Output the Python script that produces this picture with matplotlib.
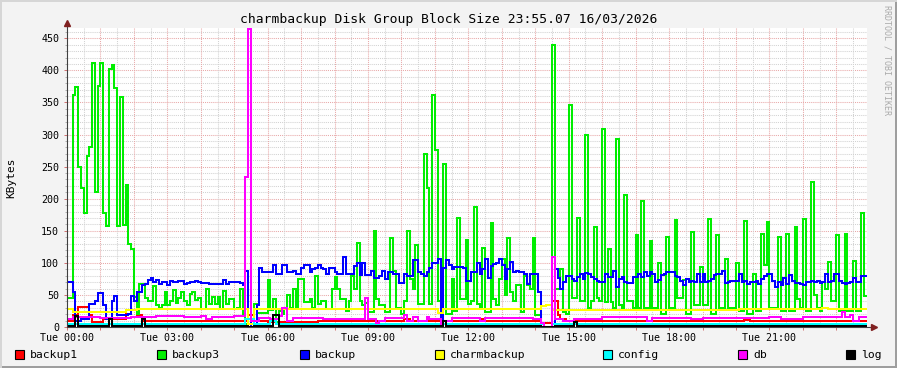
import matplotlib
matplotlib.use("Agg")
import matplotlib.pyplot as plt
from matplotlib.patches import Rectangle
import numpy as np

W, H = 897, 368

TITLE = "charmbackup Disk Group Block Size 23:55.07 16/03/2026"
END_TIME = "23:55"
TICK_HOURS = [0, 3, 6, 9, 12, 15, 18, 21]
Y_TICKS = [0, 50, 100, 150, 200, 250, 300, 350, 400, 450]
Y_MAX = 466

# backup3 (green), 5 minute samples, one row per hour
backup3 = [
    [45, 45, 361, 374, 250, 216, 177, 267, 280, 411, 210, 376],
    [411, 177, 157, 402, 408, 373, 157, 358, 159, 221, 130, 122],
    [47, 20, 67, 67, 45, 40, 40, 64, 35, 30, 35, 55],
    [35, 40, 57, 38, 45, 55, 40, 35, 52, 55, 42, 45],
    [28, 28, 60, 36, 47, 36, 47, 28, 56, 36, 44, 44],
    [28, 30, 60, 20, 5, 5, 10, 36, 22, 22, 22, 22],
    [74, 26, 44, 8, 25, 20, 30, 50, 30, 60, 30, 75],
    [75, 39, 39, 43, 30, 80, 36, 41, 41, 28, 28, 60],
    [78, 60, 44, 44, 25, 40, 80, 60, 131, 40, 35, 38],
    [23, 23, 149, 44, 34, 34, 23, 23, 138, 88, 30, 30],
    [20, 40, 150, 75, 60, 128, 36, 36, 270, 216, 36, 362],
    [276, 40, 0, 254, 20, 20, 75, 25, 170, 44, 44, 136],
    [36, 40, 187, 36, 30, 123, 23, 23, 162, 44, 34, 75],
    [106, 50, 139, 55, 40, 65, 65, 23, 80, 65, 60, 138],
    [18, 18, 0, 0, 0, 0, 440, 60, 60, 91, 23, 20],
    [346, 45, 45, 170, 40, 40, 300, 30, 40, 156, 45, 40],
    [309, 39, 122, 39, 30, 293, 35, 30, 206, 40, 40, 30],
    [144, 30, 196, 30, 30, 134, 30, 30, 99, 20, 20, 141],
    [30, 30, 166, 45, 45, 73, 20, 20, 148, 35, 35, 94],
    [35, 35, 169, 20, 20, 143, 30, 30, 106, 30, 30, 30],
    [99, 25, 25, 165, 20, 20, 83, 25, 25, 145, 96, 164],
    [30, 30, 30, 140, 25, 25, 145, 25, 25, 156, 44, 30],
    [169, 25, 25, 226, 50, 30, 25, 70, 60, 101, 40, 40],
    [144, 25, 25, 145, 25, 25, 103, 25, 25, 178, 48],
]

# backup (blue), 5 minute samples, one row per hour
backup = [
    [70, 70, 55, 10, 10, 13, 13, 13, 36, 36, 41, 53],
    [53, 34, 13, 13, 41, 48, 19, 18, 18, 18, 20, 49],
    [41, 54, 54, 65, 67, 74, 76, 70, 73, 67, 70, 70],
    [65, 71, 70, 70, 71, 71, 67, 68, 70, 70, 72, 70],
    [69, 69, 69, 67, 67, 67, 67, 67, 73, 67, 70, 70],
    [70, 70, 69, 65, 88, 13, 0, 0, 34, 92, 86, 86],
    [86, 86, 97, 83, 83, 97, 97, 86, 86, 88, 83, 83],
    [92, 97, 97, 86, 90, 92, 97, 92, 90, 83, 92, 92],
    [86, 83, 83, 109, 82, 82, 82, 95, 100, 81, 100, 81],
    [81, 88, 76, 76, 80, 88, 75, 85, 85, 83, 83, 69],
    [69, 83, 80, 80, 104, 104, 86, 83, 80, 86, 92, 99],
    [99, 106, 0, 92, 105, 96, 91, 94, 94, 94, 92, 71],
    [71, 86, 86, 100, 83, 90, 106, 76, 95, 98, 100, 106],
    [97, 75, 90, 102, 86, 88, 85, 85, 82, 67, 83, 83],
    [83, 55, 0, 0, 0, 0, 0, 91, 76, 60, 70, 80],
    [80, 75, 72, 78, 82, 75, 84, 82, 78, 75, 72, 70],
    [70, 83, 78, 78, 88, 62, 75, 78, 70, 68, 68, 78],
    [78, 83, 78, 85, 80, 86, 83, 70, 74, 81, 83, 86],
    [86, 86, 80, 78, 72, 65, 75, 70, 72, 70, 82, 70],
    [82, 70, 71, 75, 81, 83, 83, 87, 69, 70, 72, 72],
    [71, 82, 70, 72, 67, 70, 70, 72, 67, 75, 80, 82],
    [82, 72, 62, 70, 66, 77, 67, 81, 72, 69, 68, 67],
    [66, 70, 70, 72, 70, 72, 69, 70, 83, 70, 72, 83],
    [83, 72, 68, 67, 69, 70, 76, 70, 70, 80, 80],
]

# the quieter series: value holds from each time until the next one
backup1_t = ["00:00", "00:10", "00:20", "00:40", "00:45", "01:05", "01:20", "01:45",
             "02:05", "02:15", "03:40", "05:25", "05:35", "06:00", "07:30", "09:20",
             "10:05", "10:15", "12:20", "12:30", "14:10", "14:30", "14:40", "14:45",
             "14:55", "15:20", "20:15", "20:25", "23:00"]
backup1_v = [10, 18, 31, 18, 8, 13, 12, 26, 18, 10, 9, 18, 9, 8, 10, 9,
             13, 9, 13, 10, 7, 40, 18, 13, 10, 9, 11, 9, 10]

charmbackup_t = ["00:00", "00:10", "00:45", "01:25", "01:45", "02:05", "05:25", "05:35",
                 "11:05", "11:15", "14:10", "14:20", "14:30", "14:40", "20:05", "22:35",
                 "22:45"]
charmbackup_v = [28, 23, 24, 23, 26, 28, 5, 28, 22, 28, 32, 35, 26, 27, 28, 30, 28]

config_t = ["00:00", "05:20", "05:35", "06:05", "06:15", "11:10", "11:15", "14:15", "14:30"]
config_v = [4, 13, 4, 9, 4, 0, 4, 0, 4]

db_t = ["00:00", "00:10", "01:00", "01:55", "02:40", "03:30", "04:00", "04:10", "04:20",
        "05:00", "05:20", "05:25", "05:30", "05:45", "06:05", "06:20", "06:25", "06:35",
        "06:45", "07:40", "08:55", "09:00", "09:15", "09:20", "09:30", "10:05", "10:10",
        "10:20", "10:30", "10:45", "10:50", "11:10", "11:15", "11:30", "12:20", "12:30",
        "13:55", "14:10", "14:15", "14:30", "14:35", "14:50", "15:10", "16:00", "17:20",
        "17:30", "18:40", "19:00", "21:00", "21:20", "22:00", "23:10", "23:15", "23:25",
        "23:30", "23:40"]
db_v = [13, 15, 14, 16, 17, 15, 17, 13, 16, 17, 234, 465, 10, 14, 13, 17, 30, 10,
        14, 12, 45, 13, 7, 10, 14, 18, 10, 15, 10, 15, 13, 0, 10, 14, 10, 14,
        12, 7, 0, 109, 13, 10, 13, 15, 9, 14, 12, 14, 16, 13, 15, 24, 15, 18,
        10, 15]

log_t = ["00:00", "00:15", "00:20", "01:15", "01:20", "02:15", "02:20", "05:25", "05:35",
         "06:10", "06:20", "11:10", "11:15", "11:20", "14:10", "14:35", "15:10", "15:15"]
log_v = [2, 17, 2, 13, 2, 13, 2, 0, 2, 18, 2, 0, 10, 2, 0, 2, 8, 2]

LEGEND = ["backup1", "backup3", "backup", "charmbackup", "config", "db", "log"]
COLORS = ["#FF0000", "#00EE00", "#0000FF", "#FFFF00", "#00FFFF", "#FF00FF", "#000000"]
LEGEND_X = [15, 157, 300, 435, 603, 738, 846]


def hm(s):
    h, m = s.split(":")
    return int(h) + int(m) / 60


END = hm(END_TIME)


def five_min(rows):
    vals = [v for row in rows for v in row]
    t = np.arange(len(vals)) * 5 / 60
    return np.append(t, END), np.append(vals, vals[-1])


def changes(times, vals):
    t = [hm(x) for x in times]
    return np.append(t, END), np.append(vals, vals[-1])


series = [
    changes(backup1_t, backup1_v),
    five_min(backup3),
    five_min(backup),
    changes(charmbackup_t, charmbackup_v),
    changes(config_t, config_v),
    changes(db_t, db_v),
    changes(log_t, log_v),
]

plt.rcParams["font.family"] = ["DejaVu Sans Mono"]

fig = plt.figure(figsize=(W / 100, H / 100), dpi=100, facecolor="#F3F3F3")

# outer shade frame
fig.add_artist(Rectangle((0, 0), 1, 2 / H, transform=fig.transFigure, color="#9E9E9E", lw=0))
fig.add_artist(Rectangle((1 - 2 / W, 0), 2 / W, 1, transform=fig.transFigure, color="#9E9E9E", lw=0))
fig.add_artist(Rectangle((0, 1 - 2 / H), 1, 2 / H, transform=fig.transFigure, color="#D6D6D6", lw=0))
fig.add_artist(Rectangle((0, 0), 2 / W, 1, transform=fig.transFigure, color="#D6D6D6", lw=0))

ax = fig.add_axes([67 / W, 1 - 327 / H, 800 / W, 299 / H])
ax.set_facecolor("white")
ax.set_xlim(0, END)
ax.set_ylim(0, Y_MAX)
for s in ax.spines.values():
    s.set_visible(False)

# grid: minor grey, major red, both dotted
dot = (0, (1, 1))
for y in range(10, Y_MAX, 10):
    major = y % 50 == 0
    ax.axhline(y, color="#E8A8A8" if major else "#D2D2D2", lw=0.75, ls=dot, zorder=1)
for i in range(1, 48):
    x = i / 2
    if x >= END:
        break
    major = i % 2 == 0
    ax.axvline(x, color="#E8A8A8" if major else "#D2D2D2", lw=0.75, ls=dot, zorder=1)

for (t, v), c in zip(series, COLORS):
    ax.step(t, v, where="post", color=c, lw=1.45, zorder=3, solid_joinstyle="miter")

# axes with arrows
px_x = END / 800
px_y = Y_MAX / 299
ax.plot([0, END + 7 * px_x], [0, 0], color="#404040", lw=0.8, clip_on=False, zorder=4)
ax.plot([0, 0], [0, Y_MAX + 5 * px_y], color="#404040", lw=0.8, clip_on=False, zorder=4)
ax.plot(END + 7 * px_x, 0, marker=">", color="#802020", ms=5, clip_on=False, zorder=5)
ax.plot(0, Y_MAX + 5 * px_y, marker="^", color="#802020", ms=5, clip_on=False, zorder=5)

ax.set_xticks(range(0, 24))
ax.set_xticklabels([f"Tue {h:02d}:00" if h in TICK_HOURS else "" for h in range(24)])
ax.set_yticks(Y_TICKS)
ax.set_yticks(range(10, Y_MAX, 10), minor=True)
ax.tick_params(axis="both", which="major", length=2.2, width=0.7, color="#D07070",
               labelsize=7.2, pad=2)
ax.tick_params(axis="y", which="major", pad=3.5)
ax.tick_params(axis="y", which="minor", length=1.5, width=0.7, color="#B0B0B0")

ax.set_ylabel("KBytes", fontsize=8)
ax.yaxis.set_label_coords(-0.064, 0.5)

fig.text(0.5, 1 - 19 / H, TITLE, ha="center", va="center", fontsize=9.4)
fig.text(887 / W, 1 - 60 / H, "RRDTOOL / TOBI OETIKER", rotation=270,
         ha="center", va="center", fontsize=6, color="#AAAAAA")

# legend
for name, c, lx in zip(LEGEND, COLORS, LEGEND_X):
    fig.add_artist(Rectangle((lx / W, 1 - 359 / H), 9 / W, 9 / H, transform=fig.transFigure,
                             facecolor=c, edgecolor="black", lw=0.8))
    fig.text((lx + 15) / W, 1 - 354.5 / H, name, ha="left", va="center", fontsize=8.2)

fig.savefig("out.png", dpi=100, facecolor=fig.get_facecolor())
